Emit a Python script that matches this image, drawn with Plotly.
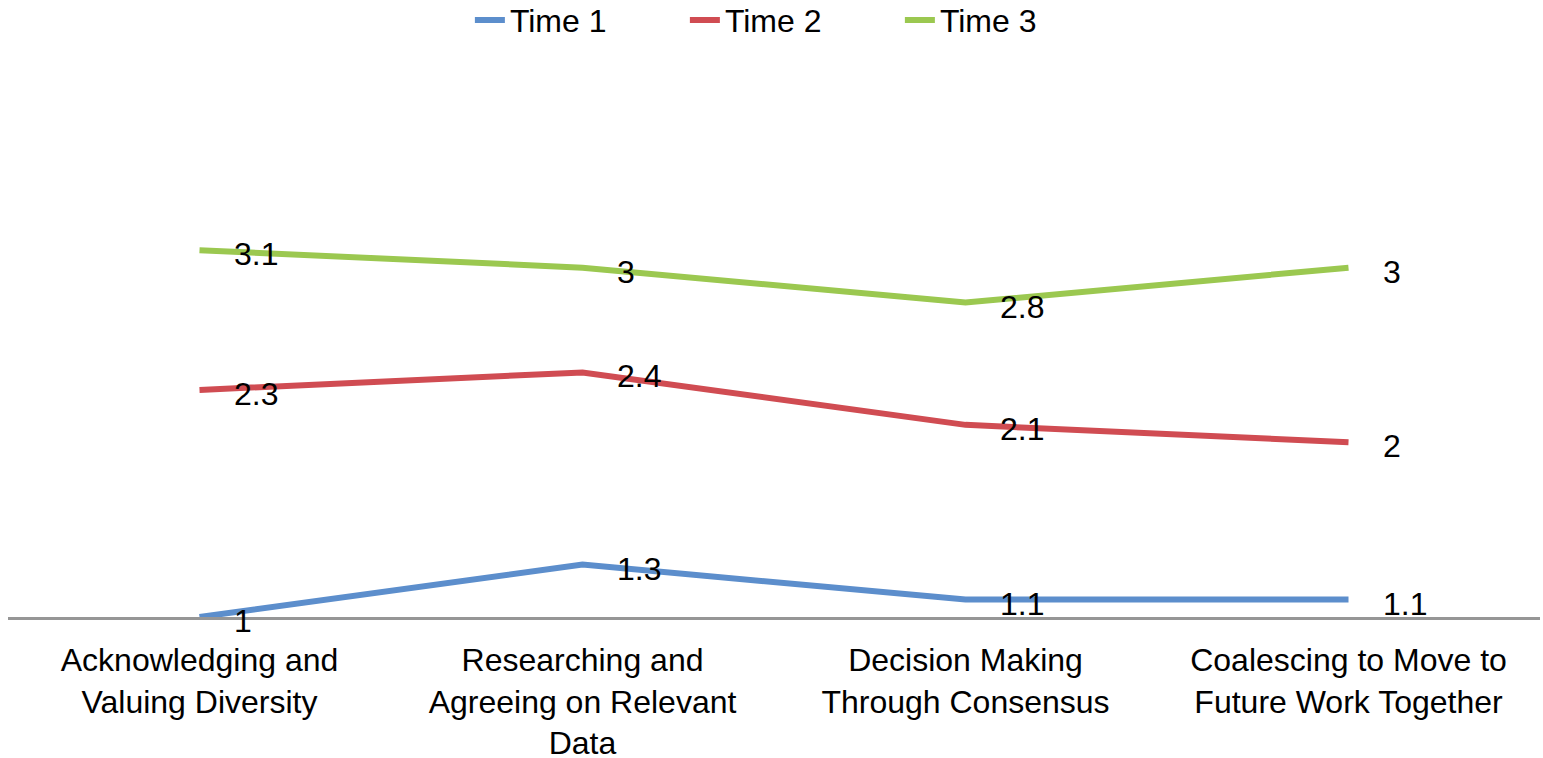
import plotly.graph_objects as go

categories = [
    "Acknowledging and<br>Valuing Diversity",
    "Researching and<br>Agreeing on Relevant<br>Data",
    "Decision Making<br>Through Consensus",
    "Coalescing to Move to<br>Future Work Together",
]
series_names = ["Time 1", "Time 2", "Time 3"]
time1 = [1, 1.3, 1.1, 1.1]
time2 = [2.3, 2.4, 2.1, 2]
time3 = [3.1, 3, 2.8, 3]
colors = ["#5C8ECC", "#D04C52", "#9BC850"]

FONT = "Liberation Sans, Arial, sans-serif"

fig = go.Figure()
annotations = []
for name, vals, col in zip(series_names, [time1, time2, time3], colors):
    fig.add_trace(go.Scatter(
        x=categories, y=vals, mode="lines", name=name,
        line=dict(color=col, width=6),
    ))
    for c, v in zip(categories, vals):
        annotations.append(dict(
            x=c, y=v, xref="x", yref="y", text=f"{v:g}", showarrow=False,
            xanchor="left", yanchor="middle", xshift=32, yshift=-4,
            font=dict(family=FONT, size=32, color="#000000"),
        ))

fig.update_layout(
    width=1543, height=758,
    margin=dict(l=8, r=3, t=93, b=141, autoexpand=False),
    paper_bgcolor="white", plot_bgcolor="white",
    font=dict(family=FONT, size=32, color="#000000"),
    showlegend=True,
    legend=dict(orientation="h", x=0.512, xanchor="center",
                y=1.139, yanchor="middle",
                font=dict(family=FONT, size=32, color="#000000"),
                entrywidth=170, entrywidthmode="pixels",
                tracegroupgap=0, bgcolor="rgba(0,0,0,0)"),
    annotations=annotations,
    xaxis=dict(type="category", range=[-0.5, 3.5], showgrid=False, zeroline=False,
               showline=True, linecolor="#969696", linewidth=2.5, ticks="",
               ticklabelstandoff=13,
               tickfont=dict(family=FONT, size=32, color="#000000"), fixedrange=True),
    yaxis=dict(range=[1, 4], visible=False, showgrid=False, zeroline=False, fixedrange=True),
)

fig.write_html("out.html")
